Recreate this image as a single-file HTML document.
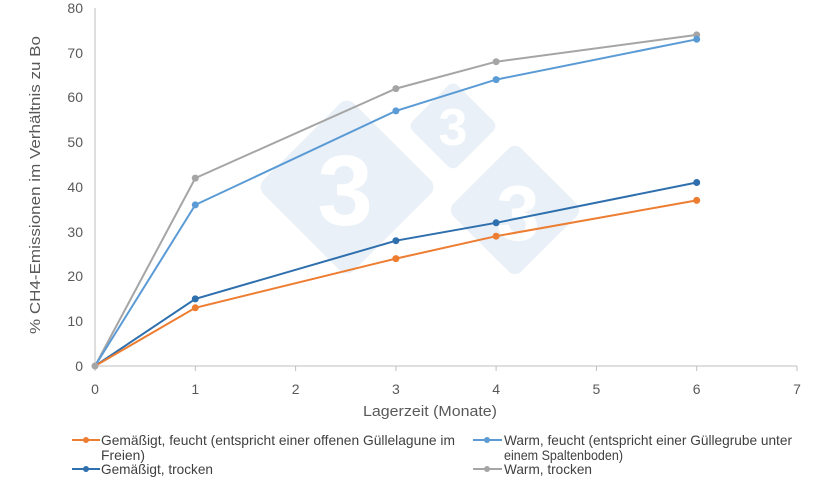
<!DOCTYPE html>
<html><head><meta charset="utf-8"><style>
body{margin:0;background:#fff;}
svg{display:block;font-family:"Liberation Sans",sans-serif;}
</style></head><body>
<svg width="820" height="485" viewBox="0 0 820 485" xmlns="http://www.w3.org/2000/svg">
<g fill="#e9f0f7">
<rect x="283" y="123" width="128" height="128" rx="10" transform="rotate(45 347 187)"/>
<rect x="421" y="94" width="64" height="64" rx="7" transform="rotate(45 453 126)"/>
<rect x="467" y="162" width="96" height="96" rx="9" transform="rotate(45 515 210)"/>
</g>
<g fill="#fff" font-weight="bold" text-anchor="middle">
<text x="345" y="225" font-size="100">3</text>
<text x="453" y="145" font-size="52">3</text>
<text x="518" y="240" font-size="78">3</text>
</g>
<g stroke="#bfbfbf" stroke-width="1">
<line x1="95" y1="8" x2="95" y2="366"/>
<line x1="95" y1="366" x2="797" y2="366"/>
<line x1="95" y1="366" x2="95" y2="371"/><line x1="195.3" y1="366" x2="195.3" y2="371"/>
<line x1="295.6" y1="366" x2="295.6" y2="371"/><line x1="395.9" y1="366" x2="395.9" y2="371"/>
<line x1="496.1" y1="366" x2="496.1" y2="371"/><line x1="596.4" y1="366" x2="596.4" y2="371"/>
<line x1="696.7" y1="366" x2="696.7" y2="371"/><line x1="797" y1="366" x2="797" y2="371"/>
</g>
<g fill="#595959" font-size="14" text-anchor="end">
<text x="83" y="371">0</text><text x="83" y="326">10</text><text x="83" y="281">20</text>
<text x="83" y="237">30</text><text x="83" y="192">40</text><text x="83" y="147">50</text>
<text x="83" y="102">60</text><text x="83" y="58">70</text><text x="83" y="13">80</text>
</g>
<g fill="#595959" font-size="14" text-anchor="middle">
<text x="95" y="394">0</text><text x="195.3" y="394">1</text><text x="295.6" y="394">2</text>
<text x="395.9" y="394">3</text><text x="496.1" y="394">4</text><text x="596.4" y="394">5</text>
<text x="696.7" y="394">6</text><text x="797" y="394">7</text>
</g>
<text x="363" y="416" fill="#595959" font-size="15" textLength="134" lengthAdjust="spacingAndGlyphs">Lagerzeit (Monate)</text>
<text transform="translate(40 334) rotate(-90)" fill="#595959" font-size="15" textLength="298" lengthAdjust="spacingAndGlyphs">% CH4-Emissionen im Verhältnis zu Bo</text>
<g fill="none" stroke-width="2">
<polyline stroke="#a5a5a5" points="95,366 195.3,178.1 395.9,88.6 496.1,61.7 696.7,34.9"/>
<polyline stroke="#5b9bd5" points="95,366 195.3,204.9 395.9,110.9 496.1,79.6 696.7,39.3"/>
<polyline stroke="#2e6fad" points="95,366 195.3,298.9 395.9,240.7 496.1,222.8 696.7,182.5"/>
<polyline stroke="#ed7d31" points="95,366 195.3,307.8 395.9,258.6 496.1,236.2 696.7,200.4"/>
</g>
<g fill="#a5a5a5"><circle cx="195.3" cy="178.1" r="3.5"/><circle cx="395.9" cy="88.6" r="3.5"/><circle cx="496.1" cy="61.7" r="3.5"/><circle cx="696.7" cy="34.9" r="3.5"/></g>
<g fill="#5b9bd5"><circle cx="195.3" cy="204.9" r="3.5"/><circle cx="395.9" cy="110.9" r="3.5"/><circle cx="496.1" cy="79.6" r="3.5"/><circle cx="696.7" cy="39.3" r="3.5"/></g>
<g fill="#2e6fad"><circle cx="195.3" cy="298.9" r="3.5"/><circle cx="395.9" cy="240.7" r="3.5"/><circle cx="496.1" cy="222.8" r="3.5"/><circle cx="696.7" cy="182.5" r="3.5"/></g>
<g fill="#ed7d31"><circle cx="195.3" cy="307.8" r="3.5"/><circle cx="395.9" cy="258.6" r="3.5"/><circle cx="496.1" cy="236.2" r="3.5"/><circle cx="696.7" cy="200.4" r="3.5"/></g>
<circle cx="95" cy="366" r="3.5" fill="#a5a5a5"/>
<g font-size="14" fill="#404040">
<line x1="72" y1="440" x2="100" y2="440" stroke="#ed7d31" stroke-width="2"/><circle cx="86" cy="440" r="3" fill="#ed7d31"/>
<text x="101" y="445" textLength="354" lengthAdjust="spacingAndGlyphs">Gemäßigt, feucht (entspricht einer offenen Güllelagune im</text>
<text x="101" y="460" textLength="44" lengthAdjust="spacingAndGlyphs">Freien)</text>
<line x1="72" y1="469" x2="100" y2="469" stroke="#2e6fad" stroke-width="2"/><circle cx="86" cy="469" r="3" fill="#2e6fad"/>
<text x="101" y="474" textLength="112" lengthAdjust="spacingAndGlyphs">Gemäßigt, trocken</text>
<line x1="473" y1="440" x2="502" y2="440" stroke="#5b9bd5" stroke-width="2"/><circle cx="487" cy="440" r="3" fill="#5b9bd5"/>
<text x="504" y="445" textLength="288" lengthAdjust="spacingAndGlyphs">Warm, feucht (entspricht einer Güllegrube unter</text>
<text x="504" y="460" textLength="119" lengthAdjust="spacingAndGlyphs">einem Spaltenboden)</text>
<line x1="473" y1="469" x2="502" y2="469" stroke="#a5a5a5" stroke-width="2"/><circle cx="487" cy="469" r="3" fill="#a5a5a5"/>
<text x="504" y="474" textLength="88" lengthAdjust="spacingAndGlyphs">Warm, trocken</text>
</g>
</svg>
</body></html>
